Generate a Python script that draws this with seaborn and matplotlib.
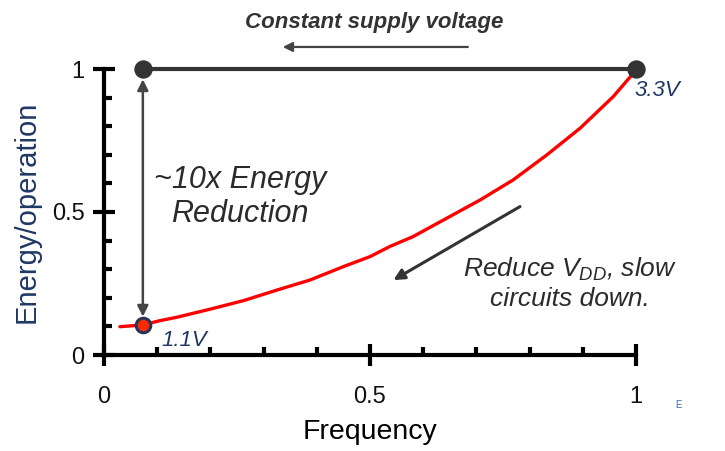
import matplotlib
matplotlib.use("Agg")
import matplotlib.pyplot as plt
import seaborn as sns
import pandas as pd
from matplotlib.ticker import MultipleLocator

# Energy per operation vs. clock frequency (both normalised)
freq = [0.03, 0.073, 0.105, 0.137, 0.199, 0.262, 0.325, 0.387, 0.45, 0.5,
        0.538, 0.581, 0.644, 0.707, 0.769, 0.832, 0.895, 0.957, 0.995, 1.0]
energy = [0.099, 0.105, 0.12, 0.132, 0.16, 0.19, 0.227, 0.262, 0.309, 0.344,
          0.38, 0.414, 0.478, 0.542, 0.612, 0.699, 0.793, 0.903, 0.985, 1.0]

# Constant-supply reference line (end points)
const_freq = [0.073, 1.0]
const_energy = [1.0, 1.0]

# Low-voltage operating point
low_freq = [0.073]
low_energy = [0.105]

x_ticks = [0, 0.5, 1]
y_ticks = [0, 0.5, 1]
tick_labels = ["0", "0.5", "1"]

sns.set_style("ticks")
FONT = ["Liberation Sans", "DejaVu Sans"]
plt.rcParams["font.family"] = FONT
plt.rcParams["mathtext.fontset"] = "custom"
plt.rcParams["mathtext.rm"] = "Liberation Sans:italic"
plt.rcParams["mathtext.it"] = "Liberation Sans:italic"

DARK = "#333333"
NAVY = "#1f3864"

fig = plt.figure(figsize=(7.25, 4.51), dpi=100)
ax = fig.add_axes([104 / 725, 1 - 355 / 451, 532 / 725, 286 / 451])

curve = pd.DataFrame({"Frequency": freq, "Energy": energy})
const = pd.DataFrame({"Frequency": const_freq, "Energy": const_energy})
low = pd.DataFrame({"Frequency": low_freq, "Energy": low_energy})

# constant supply voltage line with end dots
sns.lineplot(data=const, x="Frequency", y="Energy", ax=ax, color=DARK,
             lw=3.0, clip_on=False, zorder=3)
sns.scatterplot(data=const, x="Frequency", y="Energy", ax=ax, color=DARK,
                s=150, edgecolor=DARK, clip_on=False, zorder=5)

# energy curve when scaling the supply voltage
sns.lineplot(data=curve, x="Frequency", y="Energy", ax=ax, color="#ff0000",
             lw=2.4, clip_on=False, zorder=4)
sns.scatterplot(data=low, x="Frequency", y="Energy", ax=ax, color="#ff2a00",
                s=110, edgecolor="#2b3358", linewidth=2.2, clip_on=False,
                zorder=6)

ax.set_xlim(0, 1)
ax.set_ylim(0, 1)

# ~10x vertical double arrow
ax.annotate("", xy=(0.073, 0.134), xytext=(0.073, 0.964),
            arrowprops=dict(arrowstyle="<|-|>", color="#444444", lw=1.8,
                            mutation_scale=16, shrinkA=0, shrinkB=0))
# constant supply arrow above the plot
ax.annotate("", xy=(0.336, 1.077), xytext=(0.684, 1.077),
            arrowprops=dict(arrowstyle="-|>", color="#444444", lw=1.6,
                            mutation_scale=14, shrinkA=0, shrinkB=0),
            annotation_clip=False)
# reduce VDD arrow
ax.annotate("", xy=(0.544, 0.262), xytext=(0.782, 0.519),
            arrowprops=dict(arrowstyle="-|>", color="#333333", lw=2.2,
                            mutation_scale=16, shrinkA=0, shrinkB=0))

ax.text(0.508, 1.164, "Constant supply voltage", ha="center", va="center",
        fontsize=16, style="italic", color=DARK, fontweight="bold",
        clip_on=False)
ax.text(0.256, 0.553, "~10x Energy\nReduction", ha="center", va="center",
        fontsize=22, style="italic", color="#2b2b2b", linespacing=1.18)
ax.text(0.876, 0.25, "Reduce $V_{DD}$, slow\ncircuits down.", ha="center",
        va="center", fontsize=19, style="italic", color="#2b2b2b",
        linespacing=1.2)
ax.text(0.15, 0.05, "1.1V", ha="center", va="center", fontsize=16,
        style="italic", color=NAVY)
ax.text(1.04, 0.925, "3.3V", ha="center", va="center", fontsize=16,
        style="italic", color=NAVY, clip_on=False)
fig.text(678 / 725, 1 - 405 / 451, "E", ha="center", va="center",
         fontsize=7, color="#3a6ea5")

# axes styling
sns.despine(ax=ax)
for side in ("left", "bottom"):
    ax.spines[side].set_linewidth(3.0)
    ax.spines[side].set_color("black")
ax.set_xticks(x_ticks)
ax.set_xticklabels(tick_labels)
ax.set_yticks(y_ticks)
ax.set_yticklabels(tick_labels)
ax.xaxis.set_minor_locator(MultipleLocator(0.1))
ax.yaxis.set_minor_locator(MultipleLocator(0.1))
ax.tick_params(which="major", direction="inout", length=16, width=3,
               labelsize=17, color="black", labelcolor="#111111")
ax.tick_params(which="minor", direction="in", length=6, width=3,
               color="black")
ax.tick_params(axis="x", which="major", pad=14)
ax.tick_params(axis="y", which="major", pad=6)

ax.set_xlabel("Frequency", fontsize=20.5, color="black", labelpad=8)
ax.set_ylabel("Energy/operation", fontsize=21, color=NAVY, labelpad=8)

fig.savefig("out.png", dpi=100)
